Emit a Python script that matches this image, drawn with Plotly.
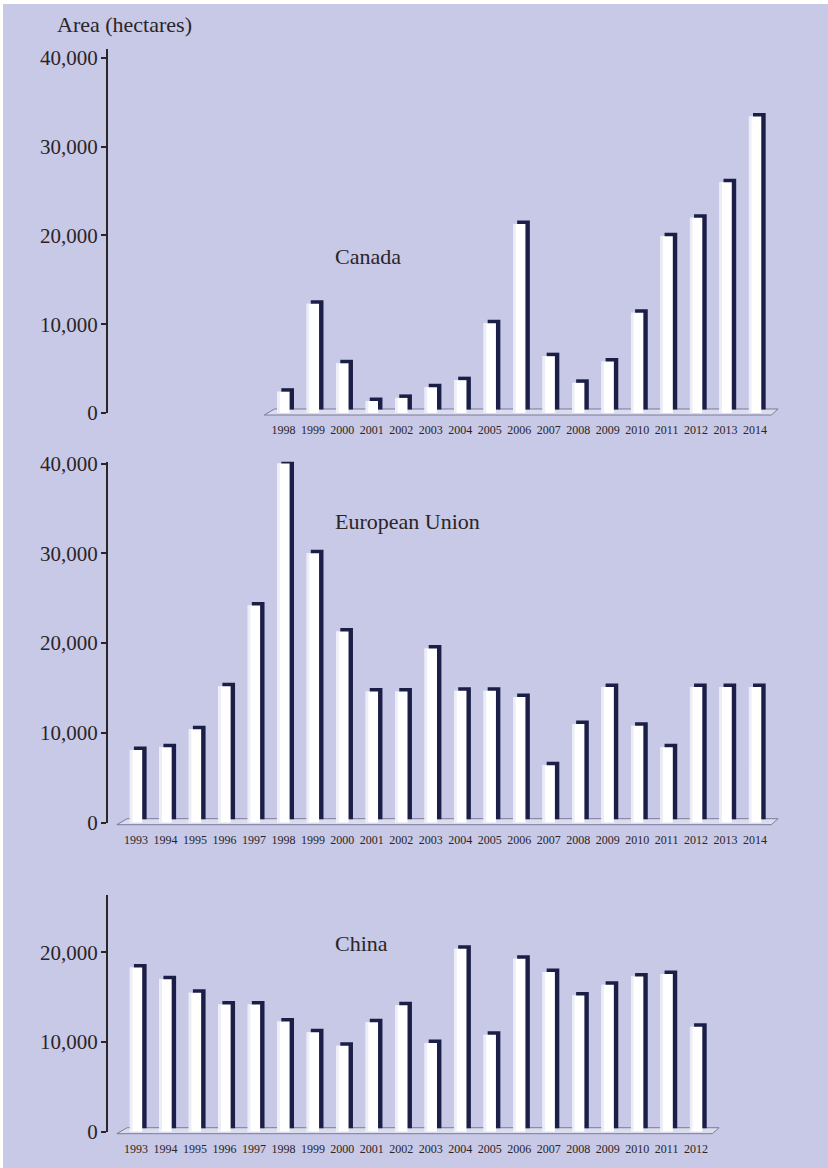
import plotly.graph_objects as go

# ---------------- data ----------------
canada_years = list(range(1998, 2015))
canada_area = [2400, 12300, 5600, 1350, 1700, 2900, 3700, 10100, 21300, 6400,
               3400, 5800, 11300, 19900, 22000, 26000, 33400]

eu_years = list(range(1993, 2015))
eu_area = [8100, 8400, 10400, 15200, 24200, 40000, 30000, 21300, 14600, 14600,
           19400, 14700, 14700, 14000, 6400, 11000, 15100, 10800, 8400, 15100,
           15100, 15100]

china_years = list(range(1993, 2013))
china_area = [18300, 17000, 15500, 14200, 14200, 12300, 11100, 9600, 12200, 14100,
              9900, 20400, 10800, 19300, 17800, 15200, 16400, 17300, 17600, 11700]

region_names = ["Canada", "European Union", "China"]
y_tick_sets = [[0, 10000, 20000, 30000, 40000],
               [0, 10000, 20000, 30000, 40000],
               [0, 10000, 20000]]
y_title = "Area (hectares)"

# ---------------- style / layout ----------------
W, H = 828, 1168
BG = "#c8c8e7"
SIDE = "#1b1f47"
FACE = "#ffffff"
TINT = "#ededf7"
TEXT = "#2a2526"
FONT = "Liberation Serif"

X_LEFT_PX = 108
X0, X1 = 1992.05, 2016.474

panels = [
    dict(years=canada_years, vals=canada_area, zero=413.0, top=49.0, ymax=41000,
         label_xy=(333, 256)),
    dict(years=eu_years, vals=eu_area, zero=822.7, top=461.7, ymax=40200,
         label_xy=(333, 521)),
    dict(years=china_years, vals=china_area, zero=1131.7, top=895.0, ymax=26400,
         label_xy=(333, 943)),
]


def px_x(year):
    return X_LEFT_PX + (year - X0) / (X1 - X0) * (W - X_LEFT_PX)


fig = go.Figure()
shapes = [dict(type="rect", xref="paper", yref="paper", x0=3 / W, x1=1, y0=0,
               y1=1 - 4 / H, fillcolor=BG, line=dict(width=0), layer="below")]
annotations = [dict(text=y_title, xref="paper", yref="paper", x=55 / W, y=1 - 25 / H,
                    xanchor="left", yanchor="middle", showarrow=False,
                    font=dict(family=FONT, size=22, color=TEXT))]

for i, p in enumerate(panels):
    k = "" if i == 0 else str(i + 1)
    xa, ya = "x" + k, "y" + k
    unit_per_px = p["ymax"] / (p["zero"] - p["top"])
    cap = 3.5 * unit_per_px

    fig.add_trace(go.Bar(x=p["years"], y=p["vals"], base=cap, offset=-0.07, width=0.43,
                         marker=dict(color=SIDE, line=dict(width=0)),
                         xaxis=xa, yaxis=ya, hoverinfo="skip"))
    fig.add_trace(go.Bar(x=p["years"], y=p["vals"], offset=-0.21, width=0.42,
                         marker=dict(color=FACE, line=dict(width=0)),
                         xaxis=xa, yaxis=ya, hoverinfo="skip"))
    fig.add_trace(go.Bar(x=p["years"], y=p["vals"], offset=-0.21, width=0.09,
                         marker=dict(color=TINT, line=dict(width=0)),
                         xaxis=xa, yaxis=ya, hoverinfo="skip"))

    dom = [1 - p["zero"] / H, 1 - p["top"] / H]
    fig.update_layout(**{
        "xaxis" + k: dict(domain=[X_LEFT_PX / W, 1], range=[X0, X1], anchor=ya,
                          showline=False, showgrid=False, zeroline=False,
                          ticks="outside", ticklen=6, tickcolor="rgba(0,0,0,0)",
                          tickvals=p["years"], ticktext=[str(y) for y in p["years"]],
                          tickfont=dict(family=FONT, size=12, color=TEXT),
                          automargin=False, fixedrange=True),
        "yaxis" + k: dict(domain=dom, range=[0, p["ymax"]], anchor=xa,
                          showline=True, linecolor=TEXT, linewidth=2,
                          showgrid=False, zeroline=False,
                          ticks="outside", ticklen=5, tickwidth=2, tickcolor=TEXT,
                          tickvals=y_tick_sets[i], tickformat=",",
                          tickfont=dict(family=FONT, size=21, color=TEXT),
                          ticklabelstandoff=-1, automargin=False, fixedrange=True),
    })

    # floor (3D base plate)
    first, last = p["years"][0], p["years"][-1]
    z = p["zero"]
    pts = [(px_x(first - 0.65), z + 2), (px_x(first - 0.3), z - 4),
           (px_x(last + 0.78), z - 4), (px_x(last + 0.55), z + 2)]
    path = "M " + " L ".join(f"{x / W:.5f},{1 - y / H:.5f}" for x, y in pts) + " Z"
    shapes.append(dict(type="path", path=path, xref="paper", yref="paper",
                       fillcolor="#dcdcef", line=dict(color="#7a7a9a", width=1),
                       layer="below"))

    lx, ly = p["label_xy"]
    annotations.append(dict(text=region_names[i], xref="paper", yref="paper",
                            x=lx / W, y=1 - ly / H, xanchor="left", yanchor="middle",
                            showarrow=False, font=dict(family=FONT, size=22, color=TEXT)))

fig.update_layout(width=W, height=H, margin=dict(l=0, r=0, t=0, b=0),
                  paper_bgcolor="#ffffff", plot_bgcolor="rgba(0,0,0,0)",
                  barmode="overlay", showlegend=False, hovermode=False,
                  shapes=shapes, annotations=annotations)

fig.write_html("out.html", config={"displayModeBar": False},
               post_script="document.body.style.margin='0px';document.body.style.overflow='hidden';")
